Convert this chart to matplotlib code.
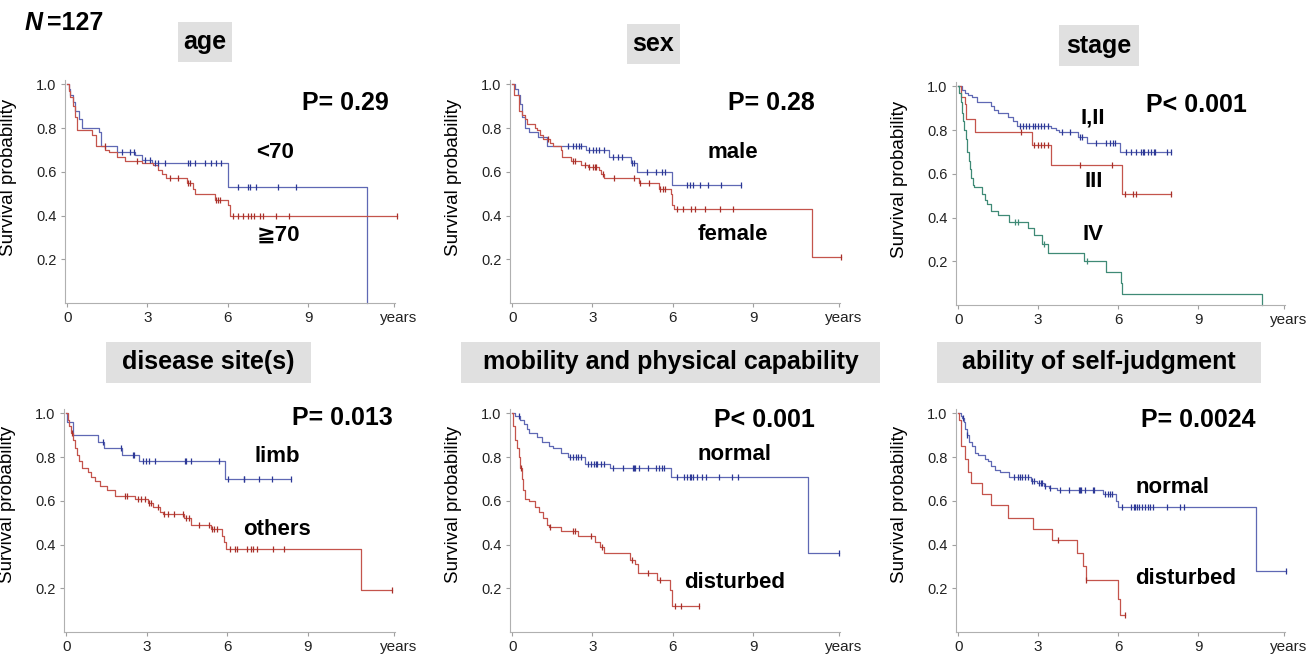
import numpy as np
import matplotlib
matplotlib.use('Agg')
import matplotlib.pyplot as plt
from matplotlib.patches import Rectangle

plt.rcParams['font.family'] = ['Liberation Sans', 'DejaVu Sans']

BLUE = '#5f68b4'
BLUE_C = '#2c3896'
RED = '#c4544c'
RED_C = '#a8302a'
GREEN = '#3f8a76'

# ---------------- age ----------------
age_lt70_t = [0.06, 0.12, 0.21, 0.31, 0.43, 0.56, 1.18, 1.28, 1.86, 2.54, 2.79, 3.16, 6.01, 11.21]
age_lt70_s = [0.98, 0.95, 0.92, 0.88, 0.84, 0.80, 0.78, 0.72, 0.69, 0.675, 0.655, 0.64, 0.53, 0.0]
age_lt70_end = 11.21
age_lt70_cens = [2.04, 2.35, 2.48, 2.91, 3.10, 3.28, 3.41, 3.66, 4.52, 4.58, 4.77, 5.14, 5.39, 5.58,
                 5.76, 6.38, 6.75, 6.82, 7.06, 7.87, 8.55]
age_ge70_t = [0.06, 0.12, 0.21, 0.29, 0.37, 0.93, 1.08, 1.43, 1.55, 1.86, 2.17, 2.79, 3.22, 3.41,
              3.53, 3.68, 4.46, 4.71, 4.77, 5.51, 6.01, 6.07]
age_ge70_s = [0.97, 0.94, 0.90, 0.85, 0.79, 0.77, 0.72, 0.70, 0.69, 0.67, 0.65, 0.64, 0.63, 0.61,
              0.59, 0.57, 0.55, 0.52, 0.50, 0.47, 0.45, 0.40]
age_ge70_end = 12.33
age_ge70_cens = [1.42, 2.60, 3.84, 4.15, 4.52, 4.58, 5.58, 5.64, 5.70, 6.20, 6.38, 6.57, 6.75, 6.88,
                 7.00, 7.19, 7.31, 7.81, 8.30, 12.33]

# ---------------- sex ----------------
male_t = [0.10, 0.22, 0.31, 0.37, 0.47, 0.64, 0.98, 1.29, 2.77, 3.63, 4.43, 4.67, 5.99]
male_s = [0.98, 0.95, 0.91, 0.85, 0.80, 0.78, 0.76, 0.72, 0.70, 0.67, 0.64, 0.60, 0.54]
male_end = 8.55
male_cens = [2.09, 2.28, 2.40, 2.48, 2.56, 2.89, 3.01, 3.14, 3.26, 3.44, 3.75, 3.94, 4.12, 4.49,
             4.55, 5.04, 5.39, 5.60, 5.72, 6.52, 6.64, 6.77, 7.01, 7.32, 7.81, 8.55]
female_t = [0.06, 0.25, 0.37, 0.49, 0.55, 0.86, 0.92, 1.05, 1.17, 1.41, 1.54, 1.82, 1.87, 2.21,
            2.58, 2.83, 3.26, 3.32, 3.44, 4.74, 5.47, 5.93, 5.99, 6.03, 11.19]
female_s = [0.95, 0.88, 0.86, 0.84, 0.82, 0.80, 0.79, 0.77, 0.75, 0.73, 0.72, 0.70, 0.67, 0.65,
            0.63, 0.62, 0.61, 0.59, 0.57, 0.55, 0.52, 0.50, 0.45, 0.43, 0.21]
female_end = 12.30
female_cens = [1.35, 2.28, 2.34, 2.71, 2.89, 3.01, 3.08, 3.14, 3.38, 3.81, 4.55, 4.77, 5.10, 5.54,
               5.63, 5.72, 6.15, 6.40, 6.70, 6.83, 7.20, 7.77, 8.27, 12.30]

# ---------------- stage ----------------
st12_t = [0.15, 0.27, 0.37, 0.52, 0.70, 1.25, 1.35, 1.50, 1.87, 2.05, 2.21, 3.47, 3.65, 3.78,
          4.51, 4.82, 6.05]
st12_s = [0.985, 0.97, 0.96, 0.95, 0.93, 0.91, 0.89, 0.88, 0.86, 0.84, 0.82, 0.81, 0.80, 0.79,
          0.77, 0.74, 0.70]
st12_end = 7.96
st12_cens = [2.30, 2.42, 2.55, 2.67, 2.79, 2.88, 2.98, 3.10, 3.22, 3.35, 3.90, 4.21, 4.58, 4.64,
             5.17, 5.56, 5.68, 5.81, 5.87, 6.30, 6.48, 6.67, 6.85, 6.91, 6.97, 7.10, 7.22, 7.34,
             7.38, 7.84, 7.96]
st3_t = [0.12, 0.25, 0.31, 0.62, 2.76, 3.49, 6.14]
st3_s = [0.95, 0.92, 0.85, 0.79, 0.73, 0.64, 0.51]
st3_end = 7.98
st3_cens = [2.36, 2.85, 2.98, 3.10, 3.22, 3.35, 4.55, 5.77, 6.24, 6.54, 6.67, 7.98]
st4_t = [0.05, 0.11, 0.15, 0.18, 0.23, 0.30, 0.34, 0.39, 0.44, 0.49, 0.54, 0.59, 0.89, 1.01,
         1.07, 1.25, 1.50, 1.89, 2.61, 2.85, 3.16, 3.35, 4.72, 5.56, 6.11, 6.15, 11.40]
st4_s = [0.97, 0.93, 0.88, 0.84, 0.80, 0.76, 0.70, 0.66, 0.62, 0.58, 0.55, 0.54, 0.51, 0.48,
         0.46, 0.43, 0.41, 0.38, 0.35, 0.32, 0.28, 0.24, 0.20, 0.15, 0.10, 0.05, 0.0]
st4_end = 11.40
st4_cens = [2.12, 2.26, 3.22, 4.82]

# ---------------- disease site(s) ----------------
limb_t = [0.05, 0.27, 1.19, 1.41, 2.08, 2.71, 5.93]
limb_s = [0.96, 0.90, 0.87, 0.84, 0.81, 0.78, 0.70]
limb_end = 8.39
limb_cens = [1.38, 2.05, 2.48, 2.52, 2.85, 2.98, 3.10, 3.31, 4.43, 4.46, 4.66, 5.68, 6.03, 6.61,
             6.64, 7.20, 7.65, 8.39]
oth_t = [0.06, 0.12, 0.18, 0.25, 0.33, 0.39, 0.48, 0.58, 0.80, 0.92, 1.07, 1.25, 1.54, 1.81,
         2.55, 3.04, 3.22, 3.51, 3.59, 4.39, 4.64, 5.38, 5.81, 5.89, 5.95, 10.97]
oth_s = [0.97, 0.94, 0.91, 0.88, 0.84, 0.81, 0.78, 0.75, 0.73, 0.71, 0.69, 0.67, 0.65, 0.62,
         0.61, 0.59, 0.57, 0.55, 0.54, 0.52, 0.49, 0.47, 0.44, 0.41, 0.38, 0.19]
oth_end = 12.12
oth_cens = [0.21, 2.20, 2.28, 2.67, 2.79, 2.92, 3.10, 3.16, 3.41, 3.65, 3.78, 4.02, 4.37, 4.45,
            4.58, 4.94, 5.31, 5.44, 5.52, 5.62, 6.11, 6.30, 6.36, 6.73, 6.88, 6.97, 7.10, 7.69,
            8.11, 12.12]

# ---------------- mobility ----------------
mob_n_t = [0.12, 0.31, 0.43, 0.55, 0.62, 0.92, 1.11, 1.36, 1.54, 1.82, 2.10, 2.71, 3.64, 5.94, 11.07]
mob_n_s = [0.99, 0.97, 0.95, 0.93, 0.91, 0.89, 0.87, 0.85, 0.84, 0.82, 0.80, 0.77, 0.75, 0.71, 0.36]
mob_n_end = 12.21
mob_n_cens = [0.25, 2.16, 2.28, 2.37, 2.47, 2.56, 2.84, 2.96, 3.06, 3.12, 3.18, 3.33, 3.45, 3.76,
              4.13, 4.50, 4.54, 4.59, 4.75, 5.06, 5.36, 5.49, 5.61, 5.67, 6.17, 6.41, 6.54, 6.63,
              6.68, 6.74, 6.91, 7.09, 7.25, 7.74, 8.20, 8.45, 12.21]
mob_d_t = [0.05, 0.10, 0.18, 0.25, 0.31, 0.35, 0.39, 0.47, 0.64, 0.86, 0.99, 1.17, 1.29, 1.38,
           1.82, 2.47, 3.08, 3.30, 3.45, 4.41, 4.59, 4.71, 5.43, 5.89, 5.98]
mob_d_s = [0.94, 0.88, 0.84, 0.80, 0.75, 0.70, 0.65, 0.61, 0.60, 0.57, 0.55, 0.52, 0.49, 0.48,
           0.46, 0.44, 0.41, 0.39, 0.36, 0.33, 0.31, 0.27, 0.24, 0.19, 0.12]
mob_d_end = 6.97
mob_d_cens = [0.32, 1.40, 2.28, 2.34, 2.96, 3.35, 4.46, 5.06, 5.52, 6.10, 6.31, 6.97]

# ---------------- self-judgment ----------------
sj_n_t = [0.09, 0.15, 0.21, 0.27, 0.33, 0.42, 0.51, 0.64, 0.74, 1.00, 1.13, 1.25, 1.37, 1.56,
          1.89, 2.72, 2.97, 3.21, 3.39, 3.70, 5.42, 5.93, 6.00, 11.18]
sj_n_s = [0.99, 0.98, 0.96, 0.93, 0.90, 0.87, 0.85, 0.82, 0.81, 0.79, 0.78, 0.76, 0.74, 0.73,
          0.71, 0.69, 0.68, 0.67, 0.66, 0.65, 0.63, 0.60, 0.57, 0.28]
sj_n_end = 12.30
sj_n_cens = [0.18, 0.34, 2.11, 2.23, 2.33, 2.41, 2.50, 2.60, 2.78, 2.84, 3.03, 3.09, 3.15, 3.27,
             3.46, 3.82, 4.17, 4.53, 4.56, 4.60, 4.74, 5.05, 5.11, 5.51, 5.60, 5.69, 5.75, 6.15,
             6.46, 6.58, 6.64, 6.70, 6.76, 6.89, 7.01, 7.11, 7.19, 7.32, 7.81, 8.30, 8.48, 12.30]
sj_d_t = [0.05, 0.10, 0.25, 0.37, 0.49, 0.88, 1.23, 1.86, 2.82, 3.52, 4.47, 4.68, 4.78, 6.00, 6.05]
sj_d_s = [0.97, 0.85, 0.79, 0.73, 0.68, 0.63, 0.58, 0.52, 0.47, 0.42, 0.36, 0.30, 0.24, 0.15, 0.08]
sj_d_end = 6.25
sj_d_cens = [3.73, 4.80, 6.25]

panel_titles = ['age', 'sex', 'stage', 'disease site(s)', 'mobility and physical capability',
                'ability of self-judgment']
p_values = ['P= 0.29', 'P= 0.28', 'P< 0.001', 'P= 0.013', 'P< 0.001', 'P= 0.0024']

panels = [
    [(age_lt70_t, age_lt70_s, age_lt70_end, age_lt70_cens, BLUE, BLUE_C, '<70', (0.636, 0.677)),
     (age_ge70_t, age_ge70_s, age_ge70_end, age_ge70_cens, RED, RED_C, '\u226770', (0.648, 0.305))],
    [(male_t, male_s, male_end, male_cens, BLUE, BLUE_C, 'male', (0.676, 0.677)),
     (female_t, female_s, female_end, female_cens, RED, RED_C, 'female', (0.676, 0.305))],
    [(st12_t, st12_s, st12_end, st12_cens, BLUE, BLUE_C, 'I,II', (0.416, 0.839)),
     (st3_t, st3_s, st3_end, st3_cens, RED, RED_C, 'III', (0.418, 0.556)),
     (st4_t, st4_s, st4_end, st4_cens, GREEN, GREEN, 'IV', (0.416, 0.314))],
    [(limb_t, limb_s, limb_end, limb_cens, BLUE, BLUE_C, 'limb', (0.643, 0.788)),
     (oth_t, oth_s, oth_end, oth_cens, RED, RED_C, 'others', (0.643, 0.461))],
    [(mob_n_t, mob_n_s, mob_n_end, mob_n_cens, BLUE, BLUE_C, 'normal', (0.679, 0.797)),
     (mob_d_t, mob_d_s, mob_d_end, mob_d_cens, RED, RED_C, 'disturbed', (0.682, 0.224))],
    [(sj_n_t, sj_n_s, sj_n_end, sj_n_cens, BLUE, BLUE_C, 'normal', (0.657, 0.649)),
     (sj_d_t, sj_d_s, sj_d_end, sj_d_cens, RED, RED_C, 'disturbed', (0.699, 0.242))],
]

W, H = 1314, 655
fig = plt.figure(figsize=(W / 100, H / 100), dpi=100)

# axes boxes in pixels: left, bottom (px from top), width
ax_px = [(65, 303, 330), (510, 303, 330), (956, 305, 329),
         (64, 632, 331), (510, 632, 330), (956, 632, 329)]
ax_h = 223
p_pos = [(0.982, 0.897), (0.924, 0.897), (0.884, 0.897),
         (0.994, 0.958), (0.924, 0.949), (0.909, 0.949)]
ylab_y = [0.565, 0.565, 0.565, 0.573, 0.573, 0.573]

# title boxes: x0, x1, y0, y1 in pixels from top-left
box_px = [(178, 232, 22, 62), (627, 680, 24, 64), (1059, 1139, 25, 66),
          (106, 311, 342, 383), (461, 880, 342, 383), (937, 1261, 342, 383)]

for i in range(6):
    l, b, w = ax_px[i]
    ax = fig.add_axes([l / W, 1 - b / H, w / W, ax_h / H])
    for t, s, end, cens, col, ccol, lab, lpos in panels[i]:
        tt = np.concatenate(([0.0], t))
        ss = np.concatenate(([1.0], s))
        if end > tt[-1]:
            tt = np.append(tt, end)
            ss = np.append(ss, ss[-1])
        ax.step(tt, ss, where='post', color=col, lw=0.9, zorder=2, clip_on=False)
        cens = np.asarray(cens)
        cy = ss[np.searchsorted(tt, cens, side='right') - 1]
        ax.plot(cens, cy, ls='none', marker='|', ms=4.5, mew=0.9, color=ccol, zorder=3,
                clip_on=False)
        ax.text(lpos[0], lpos[1], lab, transform=ax.transAxes, ha='center', va='center',
                fontsize=16, fontweight='bold')
    ax.text(p_pos[i][0], p_pos[i][1], p_values[i], transform=ax.transAxes, ha='right',
            va='center', fontsize=18, fontweight='bold')

    ax.set_xlim(-0.08, 12.25)
    ax.set_ylim(0, 1.02)
    ax.set_xticks([0, 3, 6, 9, 12.2])
    ax.set_xticklabels(['0', '3', '6', '9', ''])
    ax.set_yticks([0.2, 0.4, 0.6, 0.8, 1.0])
    ax.set_yticklabels(['0.2', '0.4', '0.6', '0.8', '1.0'])
    ax.tick_params(axis='both', direction='out', length=3, width=0.8, color='#a0a0a0',
                   labelsize=11, labelcolor='#222222', pad=3)
    ax.tick_params(axis='y', labelsize=10.5)
    for sp in ['top', 'right']:
        ax.spines[sp].set_visible(False)
    for sp in ['left', 'bottom']:
        ax.spines[sp].set_color('#b0b0b0')
        ax.spines[sp].set_linewidth(0.8)
    ax.set_ylabel('Survival probability', fontsize=13.5)
    ax.yaxis.set_label_coords(-0.145, ylab_y[i])
    ax.text(1.012, -0.067, 'years', transform=ax.transAxes, ha='center', va='center',
            fontsize=11, color='#222222')

    x0, x1, y0, y1 = box_px[i]
    fig.patches.append(Rectangle((x0 / W, 1 - y1 / H), (x1 - x0) / W, (y1 - y0) / H,
                                 transform=fig.transFigure, facecolor='#e0e0e0',
                                 edgecolor='none', zorder=0))
    fig.text((x0 + x1) / 2 / W, 1 - (y0 + y1) / 2 / H, panel_titles[i], ha='center',
             va='center', fontsize=18, fontweight='bold')

fig.text(25 / W, 1 - 23 / H, 'N', ha='left', va='center', fontsize=18, fontweight='bold',
         style='italic')
fig.text(47 / W, 1 - 23 / H, '=127', ha='left', va='center', fontsize=18, fontweight='bold')

fig.savefig('out.png', dpi=100)
